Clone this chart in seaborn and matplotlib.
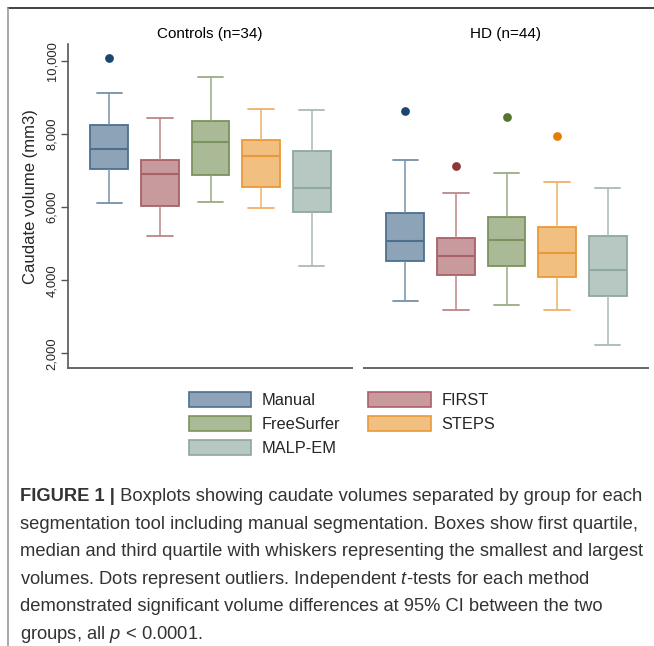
import pandas as pd
import matplotlib
matplotlib.use("Agg")
import matplotlib.pyplot as plt
import seaborn as sns
from matplotlib.patches import Patch
from matplotlib.lines import Line2D

sns.set_style("white")
plt.rcParams["font.family"] = ["Liberation Sans", "DejaVu Sans"]
plt.rcParams["mathtext.fontset"] = "custom"
plt.rcParams["mathtext.rm"] = "Liberation Sans"
plt.rcParams["mathtext.it"] = "Liberation Sans:italic"

methods = ["Manual", "FIRST", "FreeSurfer", "STEPS", "MALP-EM"]

# Controls (n=34): five-number summaries
ctrl_low = [6120, 5210, 6130, 5970, 4400]
ctrl_q1 = [7045, 6040, 6870, 6560, 5860]
ctrl_med = [7600, 6910, 7785, 7390, 6525]
ctrl_q3 = [8240, 7290, 8360, 7845, 7545]
ctrl_high = [9115, 8450, 9555, 8695, 8670]
ctrl_out = [10070, None, None, None, None]

# HD (n=44)
hd_low = [3430, 3195, 3315, 3185, 2235]
hd_q1 = [4525, 4145, 4400, 4100, 3560]
hd_med = [5075, 4665, 5090, 4745, 4290]
hd_q3 = [5840, 5155, 5730, 5455, 5200]
hd_high = [7300, 6395, 6925, 6700, 6535]
hd_out = [8640, 7135, 8470, 7950, None]

# Stata s2color base colours
base_rgb = {
    "Manual": (26, 71, 111),
    "FIRST": (144, 53, 59),
    "FreeSurfer": (85, 117, 47),
    "STEPS": (227, 126, 0),
    "MALP-EM": (110, 142, 132),
}


def tint(rgb, a):
    return tuple((a * c + (1 - a) * 255) / 255 for c in rgb)


fills = {m: tint(base_rgb[m], 0.5) for m in methods}
edges = {m: tint(base_rgb[m], 0.78) for m in methods}
whisk = {m: tint(base_rgb[m], 0.6) for m in methods}
dark = {m: tint(base_rgb[m], 1.0) for m in methods}


def box_frame(low, q1, med, q3, high):
    # values whose min/quartiles/max equal the read summary
    rows = []
    for m, a, b, c, d, e in zip(methods, low, q1, med, q3, high):
        for v in [a, b, b, c, d, d, e]:
            rows.append({"method": m, "volume": v})
    return pd.DataFrame(rows)


def out_frame(out):
    return pd.DataFrame([{"method": m, "volume": v} for m, v in zip(methods, out) if v is not None])


panels = [
    ("Controls (n=34)", box_frame(ctrl_low, ctrl_q1, ctrl_med, ctrl_q3, ctrl_high), out_frame(ctrl_out)),
    ("HD (n=44)", box_frame(hd_low, hd_q1, hd_med, hd_q3, hd_high), out_frame(hd_out)),
]

W, H = 654, 646
fig = plt.figure(figsize=(W / 100, H / 100), dpi=100)


def fx(x):
    return x / W


def fy(y):
    return 1 - y / H


axL = fig.add_axes([fx(68), fy(368), 284 / W, 324 / H])
axR = fig.add_axes([fx(364), fy(368), 284 / W, 324 / H], sharey=axL)

for ax, (title, bdf, odf) in zip([axL, axR], panels):
    sns.boxplot(data=bdf, x="method", y="volume", hue="method", order=methods,
                hue_order=methods, palette=fills, width=0.75, whis=(0, 100),
                linewidth=1.2, saturation=1, legend=False, ax=ax)
    for c in ax.containers:
        xc = c.medians[0].get_xdata().mean()
        m = methods[int(round(xc))]
        for b in c.boxes:
            b.set_facecolor(fills[m])
            b.set_edgecolor(edges[m])
            b.set_linewidth(1.3)
        for ln in c.medians:
            ln.set_color(edges[m])
            ln.set_linewidth(1.5)
        for ln in c.whiskers:
            ln.set_color(whisk[m])
            ln.set_linewidth(1.1)
        for ln in c.caps:
            ln.set_color(whisk[m])
            ln.set_linewidth(1.3)
            ln.set_xdata([xc - 0.25, xc + 0.25])
    sns.stripplot(data=odf, x="method", y="volume", hue="method", order=methods,
                  hue_order=methods, palette=dark, jitter=False, size=6.3,
                  linewidth=0, legend=False, ax=ax, zorder=5)
    ax.set_xlim(-0.82, 4.8)
    ax.set_xticks([])
    ax.set_xlabel("")
    ax.set_title(title, fontsize=11, pad=4.5, color="black")
    for s in ["top", "right"]:
        ax.spines[s].set_visible(False)
    ax.spines["bottom"].set_color("#666666")
    ax.spines["bottom"].set_linewidth(1.4)

axL.set_ylim(1600, 10465)
ticks = [2000, 4000, 6000, 8000, 10000]
axL.set_yticks(ticks)
axL.set_yticklabels([f"{t:,}" for t in ticks], rotation=90, va="center", fontsize=9.3)
axL.tick_params(axis="y", direction="out", length=5, width=1, color="#555555", pad=2, left=True)
axL.spines["left"].set_color("#555555")
axL.spines["left"].set_linewidth(1.2)
axL.set_ylabel("Caudate volume (mm3)", fontsize=12)
axL.yaxis.label.set_va("center")
axL.yaxis.set_label_coords(-0.132, 0.53)

axR.spines["left"].set_visible(False)
axR.tick_params(axis="y", left=False, labelleft=False)
axR.set_ylabel("")

# legend
order = ["Manual", "FreeSurfer", "MALP-EM", "FIRST", "STEPS"]
handles = [Patch(facecolor=fills[m], edgecolor=edges[m], linewidth=1.2) for m in order]
fig.legend(handles, order, loc="upper left", bbox_to_anchor=(fx(189), fy(392)),
           ncol=2, frameon=False, fontsize=11.8, handlelength=3.8, handleheight=1.0,
           handletextpad=0.65, columnspacing=1.7, labelspacing=0.5, borderpad=0,
           borderaxespad=0)

# caption
cap_size = 13.25
cap_col = "#333333"
lines = [
    "Boxplots showing caudate volumes separated by group for each",
    "segmentation tool including manual segmentation. Boxes show first quartile,",
    "median and third quartile with whiskers representing the smallest and largest",
    "volumes. Dots represent outliers. Independent $t$-tests for each method",
    "demonstrated significant volume differences at 95% CI between the two",
    "groups, all $p$ < 0.0001.",
]
y0 = 501
step = 27.6
bold = fig.text(fx(20), fy(y0), "FIGURE 1 |", fontsize=cap_size, fontweight="bold",
                color=cap_col, va="baseline")
fig.canvas.draw()
bb = bold.get_window_extent(renderer=fig.canvas.get_renderer())
x_after = bb.x1 / fig.dpi / fig.get_figwidth()
fig.text(x_after, fy(y0), " " + lines[0], fontsize=cap_size, color=cap_col, va="baseline")
for i, t in enumerate(lines[1:], start=1):
    fig.text(fx(20), fy(y0 + i * step), t, fontsize=cap_size, color=cap_col, va="baseline")

# frame lines
fig.add_artist(Line2D([fx(8), 1], [fy(8), fy(8)], transform=fig.transFigure, color="#333333", lw=1.3))
fig.add_artist(Line2D([fx(8), fx(8)], [fy(8), 0], transform=fig.transFigure, color="#999999", lw=1.2))

fig.savefig("out.png", dpi=100)
